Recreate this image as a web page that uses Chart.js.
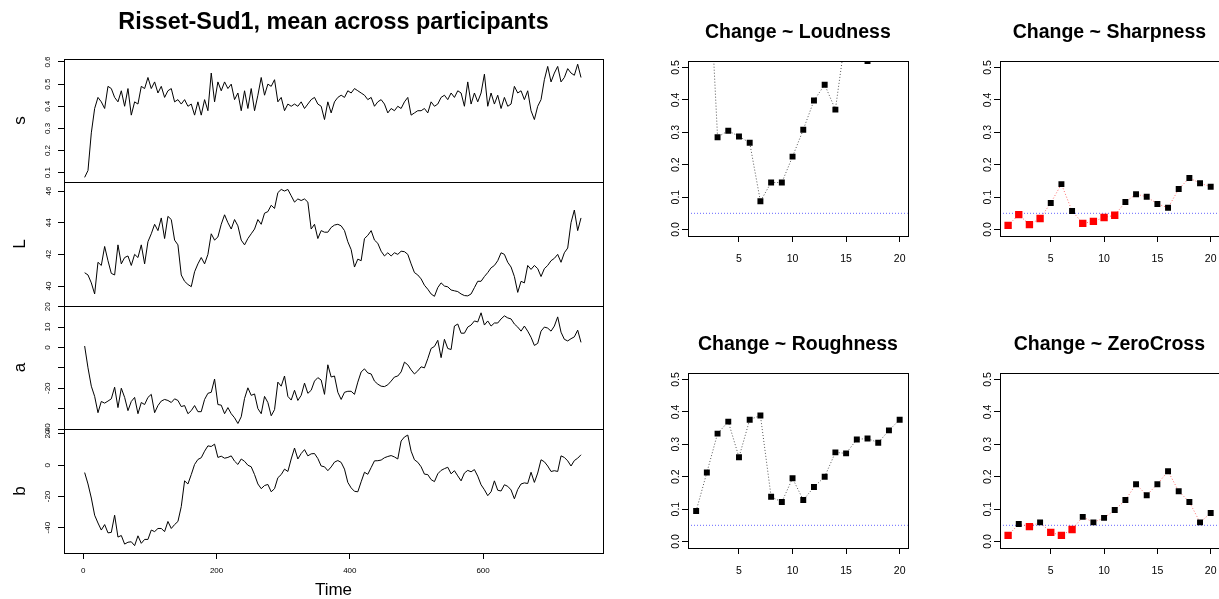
<!DOCTYPE html>
<html>
<head>
<meta charset="utf-8">
<script src="https://cdn.jsdelivr.net/npm/chart.js@4.4.1/dist/chart.umd.min.js"></script>
<style>
html, body { margin: 0; padding: 0; background: #fff; width: 1219px; height: 599px; overflow: hidden; }
canvas { position: absolute; }
</style>
</head>
<body>
<script>
// ---- time series (mean across participants), sampled every 5 time steps ----
const tStart = 2, tStep = 5;
const timeTicks = [0, 200, 400, 600];

const sVals = [0.079,0.11,0.28,0.39,0.44,0.42,0.39,0.49,0.48,0.44,
  0.42,0.47,0.40,0.48,0.36,0.42,0.41,0.49,0.48,0.53,
  0.48,0.51,0.46,0.49,0.44,0.47,0.48,0.42,0.43,0.41,
  0.43,0.40,0.41,0.36,0.42,0.36,0.43,0.38,0.55,0.42,
  0.51,0.47,0.51,0.48,0.50,0.43,0.46,0.38,0.47,0.39,
  0.48,0.38,0.45,0.53,0.45,0.50,0.49,0.52,0.42,0.44,
  0.38,0.41,0.40,0.41,0.40,0.42,0.39,0.41,0.43,0.44,
  0.41,0.40,0.34,0.42,0.37,0.42,0.44,0.45,0.44,0.47,
  0.46,0.48,0.47,0.46,0.45,0.43,0.44,0.40,0.42,0.43,
  0.41,0.37,0.39,0.38,0.40,0.39,0.42,0.44,0.36,0.37,
  0.38,0.38,0.39,0.37,0.42,0.40,0.41,0.44,0.45,0.43,
  0.46,0.44,0.47,0.46,0.40,0.51,0.41,0.46,0.42,0.46,
  0.545,0.40,0.46,0.41,0.45,0.39,0.44,0.40,0.41,0.49,
  0.46,0.47,0.43,0.47,0.38,0.34,0.40,0.43,0.52,0.58,
  0.51,0.55,0.58,0.51,0.53,0.57,0.55,0.54,0.59,0.53];

const LVals = [40.84,40.7,40.2,39.5,41.5,41.3,42.5,41.6,40.8,40.7,
  42.6,41.4,41.8,41.9,41.3,42.0,41.8,42.6,41.4,42.8,
  43.3,43.9,43.5,44.3,43.0,44.4,44.2,42.9,42.6,40.7,
  40.3,40.1,39.96,40.9,41.4,41.8,41.4,42.0,43.3,42.9,
  43.1,43.9,44.5,44.0,43.6,44.2,43.8,42.9,42.6,43.0,
  43.3,43.6,44.2,43.9,44.6,44.7,45.1,44.9,45.9,46.1,
  46.0,46.1,45.7,45.3,45.5,45.4,45.5,45.3,43.6,43.9,
  43.0,43.5,43.4,43.4,43.7,43.85,43.9,43.8,43.5,42.8,
  42.3,41.2,41.7,41.6,43.0,43.2,43.5,42.9,42.7,42.2,
  41.9,42.1,41.9,42.1,42.0,42.2,42.17,42.0,41.4,40.85,
  40.7,40.45,40.05,39.8,39.5,39.35,39.9,40.2,40.0,39.95,
  39.75,39.7,39.65,39.5,39.4,39.38,39.5,39.9,40.3,40.3,
  40.6,40.85,41.15,41.3,41.6,42.1,42.0,41.5,41.2,40.6,
  39.6,40.3,40.2,41.3,41.05,41.3,41.1,40.6,41.1,41.3,
  41.6,41.75,42.0,41.5,42.1,42.4,44.0,44.8,43.5,44.3];

const aVals = [0.7,-10,-19,-24,-32,-26.5,-27.3,-26.3,-25.2,-19.5,
  -29.5,-20,-24.5,-31,-26.5,-24.5,-32.5,-27,-28,-24.5,
  -23,-32,-28.5,-26.3,-25.5,-26,-27,-25.2,-26,-29,
  -28.5,-32.5,-31,-28.5,-31.5,-31.5,-25.5,-22.5,-22,-15.5,
  -28,-28.3,-32.5,-29.5,-32.5,-34.5,-37.3,-34,-25,-19.8,
  -23.5,-22.8,-30,-32.5,-24,-27,-33.5,-30.5,-17,-19,
  -14,-24,-25.8,-21,-26,-23.5,-17.5,-22.5,-21,-16.5,
  -14.8,-16,-23,-8.5,-14.5,-14,-22,-25.5,-22,-21.5,
  -21.5,-23,-17,-12,-10.5,-12.5,-13,-16.5,-18,-19,
  -19.2,-18.3,-16.5,-14.5,-14,-12,-7.2,-8.5,-11,-13,
  -11.5,-9.5,-10,-5.5,-0.5,0.5,3.5,-5,4,-0.5,
  -1,10.5,11.5,7,7,10,11,13,12.5,17,
  11,13,10.5,12,12,14,15.5,14.5,14,11.5,
  10,8,10.5,8,5,1,2,8,10,9.5,
  8,10.5,15,7.5,4,3.2,4.3,5.2,8.5,2.5];

const bVals = [-4.7,-12,-21,-32,-37,-41.5,-38,-43.3,-43,-32,
  -46,-45,-50.5,-49.3,-49,-51.5,-45.2,-50,-47.5,-47.5,
  -41.5,-42.5,-40.5,-40.5,-42.5,-36,-40.5,-38,-36,-26.5,
  -10,-12,-6,0.5,3.7,4.8,9,12.4,12,13.5,
  5,5.8,4.5,5,6,2.6,0.5,4,2.5,0,
  -1,-6,-12,-15,-13,-12.3,-17,-15,-8,-6,
  -2.5,-4,4,11,4,7.5,10,6,7.3,7.5,
  4.3,-0.5,-1,-3.5,-1.1,2,3,1.8,-2.5,-11,
  -14.5,-16.7,-17,-10.6,-4.5,-5.8,-1.5,2.8,2.9,3.3,
  4.8,5.6,6.2,5.3,4,15.5,18.1,19.3,9,3.5,
  1.9,-1,-5.7,-6,-9.2,-10.5,-5.5,-3.3,-2.2,-1.3,
  -5.5,-3.5,-6.8,-10,-5,-3.3,-4.2,-2.8,-7,-12.5,
  -15.7,-19.5,-17,-10,-16,-16.5,-12.5,-13.5,-15.8,-21.5,
  -15.5,-12,-11.3,-11.7,-4.5,-11,-5,3.5,2.2,-0.5,
  -4,-3.5,-4,6,5,2.8,-0.5,3,4.5,6.7];

const sTicks = [0.1, 0.2, 0.3, 0.4, 0.5, 0.6];
const LTicks = [40, 42, 44, 46];
const aTicks = [-40, -30, -20, -10, 0, 10, 20];
const aLabels = [-40, -20, 0, 10, 20];
const bTicks = [-40, -20, 0, 20];

// ---- p-values of the change models, lags 1..20 ----
const lags = [1,2,3,4,5,6,7,8,9,10,11,12,13,14,15,16,17,18,19,20];
const loudP = [0.8,0.95,0.285,0.305,0.287,0.268,0.087,0.145,0.145,0.225,0.308,0.398,0.447,0.37,0.61,0.7,0.52,0.65,0.75,0.7];
const sharpP = [0.013,0.046,0.015,0.034,0.082,0.14,0.057,0.019,0.025,0.037,0.044,0.085,0.109,0.101,0.079,0.067,0.125,0.159,0.143,0.132];
const roughP = [0.094,0.213,0.333,0.37,0.26,0.376,0.389,0.138,0.122,0.195,0.128,0.168,0.2,0.275,0.272,0.315,0.318,0.305,0.343,0.376];
const zeroP = [0.019,0.054,0.046,0.059,0.028,0.019,0.037,0.076,0.059,0.073,0.097,0.128,0.177,0.143,0.177,0.217,0.155,0.122,0.059,0.088];
const pTicks = [0, 0.1, 0.2, 0.3, 0.4, 0.5];
const lagTicks = [5, 10, 15, 20];
const alpha = 0.05;

Chart.defaults.font.family = '"Liberation Sans", Arial, Helvetica, sans-serif';
Chart.defaults.color = '#000';

// box round the plot region, like R's box()
const framePlugin = {
  id: 'frame',
  afterDatasetsDraw(chart) {
    const a = chart.chartArea, ctx = chart.ctx;
    ctx.save();
    ctx.strokeStyle = '#000';
    ctx.lineWidth = 1;
    ctx.strokeRect(Math.round(a.left) + 0.5, Math.round(a.top) + 0.5,
      Math.round(a.right - a.left), Math.round(a.bottom - a.top));
    ctx.restore();
  }
};

function addCanvas(left, top, w, h) {
  const c = document.createElement('canvas');
  c.width = w; c.height = h;
  c.style.left = left + 'px'; c.style.top = top + 'px';
  c.style.width = w + 'px'; c.style.height = h + 'px';
  document.body.appendChild(c);
  return c;
}

function setTicks(list) {
  return scale => { scale.ticks = list.map(v => ({ value: v })); };
}

// left column: one stacked panel of the multiple time series
function tsPanel(vals, name, yMin, yMax, yTicks, yShown, areaTop, areaBottom, first, last) {
  const canvasTop = first ? 0 : areaTop - 6;
  const height = areaBottom - canvasTop + (last ? 48 : 6);
  const c = addCanvas(0, canvasTop, 606, height);
  new Chart(c, {
    type: 'line',
    data: {
      datasets: [{
        data: vals.map((v, i) => ({ x: tStart + i * tStep, y: v })),
        borderColor: '#000', borderWidth: 1, pointRadius: 0, tension: 0
      }]
    },
    options: {
      responsive: false, animation: false, events: [],
      layout: { padding: { top: first ? 0 : 6, bottom: last ? 0 : 6, left: 0, right: 3 } },
      plugins: {
        legend: { display: false }, tooltip: { enabled: false },
        title: {
          display: first, text: 'Risset-Sud1, mean across participants', fullSize: false,
          font: { size: 23.4, weight: 'bold' }, color: '#000', padding: { top: 9, bottom: areaTop - 9 - 28.1 }
        }
      },
      scales: {
        x: {
          type: 'linear', min: -29, max: 780, display: last,
          afterBuildTicks: setTicks(timeTicks),
          afterFit: s => { s.height = last ? 48 : 0; s.paddingLeft = 0; s.paddingRight = 0; },
          ticks: { minRotation: 0, maxRotation: 0, autoSkip: false, padding: 7, font: { size: 8 }, color: '#000' },
          grid: { drawOnChartArea: false, drawTicks: true, tickLength: 6, color: '#000' },
          border: { display: false },
          title: { display: true, text: 'Time', font: { size: 17 }, color: '#000', padding: { top: 0, bottom: 0 } }
        },
        y: {
          type: 'linear', min: yMin, max: yMax,
          afterBuildTicks: setTicks(yTicks),
          afterFit: s => { s.width = 64; s.paddingTop = 0; s.paddingBottom = 0; },
          ticks: {
            callback: v => yShown.includes(v) ? String(v) : '',
            minRotation: 90, maxRotation: 90, crossAlign: 'center', padding: 4.5,
            font: { size: 8 }, color: '#000', autoSkip: false
          },
          grid: { drawOnChartArea: false, drawTicks: true, tickLength: 6, color: '#000' },
          border: { display: false },
          title: { display: true, text: name, font: { size: 17 }, color: '#000', padding: { top: 10, bottom: 0 } }
        }
      }
    },
    plugins: [framePlugin]
  });
}

tsPanel(sVals, 's', 0.058, 0.6136, sTicks, sTicks, 59, 182, true, false);
tsPanel(LVals, 'L', 38.74, 46.57, LTicks, LTicks, 182, 306, false, false);
tsPanel(aVals, 'a', -40.0, 20.34, aTicks, aLabels, 306, 429, false, false);
tsPanel(bVals, 'b', -56.2, 23.2, bTicks, bTicks, 429, 553, false, true);

// right block: p-value by lag for each predictor
const lagMin = 0.24, lagMax = 20.76;
function pPanel(name, pvals, plotLeft, plotTop) {
  const c = addCanvas(plotLeft - 50, plotTop - 61, 274, 276);
  const sig = pvals.some(p => p < alpha);
  new Chart(c, {
    type: 'line',
    data: {
      datasets: [{
        data: pvals.map((p, i) => ({ x: lags[i], y: p })),
        borderColor: sig ? 'rgba(255,60,60,0.75)' : '#555',
        borderWidth: 1, borderDash: [1, 2], tension: 0,
        pointStyle: 'rect',
        pointRadius: pvals.map(p => p < alpha ? 5.2 : 4.2),
        pointBackgroundColor: pvals.map(p => p < alpha ? '#ff0000' : '#000'),
        pointBorderWidth: 0
      }, {
        data: [{ x: lagMin, y: alpha }, { x: lagMax, y: alpha }],
        borderColor: '#6666ff', borderWidth: 1, borderDash: [1, 2], pointRadius: 0
      }]
    },
    options: {
      responsive: false, animation: false, events: [],
      layout: { padding: { top: 0, bottom: 0, left: 0, right: 3 } },
      plugins: {
        legend: { display: false }, tooltip: { enabled: false },
        title: {
          display: true, text: name, fullSize: false,
          font: { size: 19.5, weight: 'bold' }, color: '#000', padding: { top: 20.5, bottom: 17.1 }
        }
      },
      scales: {
        x: {
          type: 'linear', min: lagMin, max: lagMax,
          afterBuildTicks: setTicks(lagTicks),
          afterFit: s => { s.height = 40; s.paddingLeft = 0; s.paddingRight = 0; },
          ticks: { minRotation: 0, maxRotation: 0, autoSkip: false, padding: 11, font: { size: 10.5 }, color: '#000' },
          grid: { drawOnChartArea: false, drawTicks: true, tickLength: 6, color: '#000' },
          border: { display: false }
        },
        y: {
          type: 'linear', min: -0.02, max: 0.52,
          afterBuildTicks: setTicks(pTicks),
          afterFit: s => { s.width = 50; s.paddingTop = 0; s.paddingBottom = 0; },
          ticks: {
            callback: v => v.toFixed(1),
            minRotation: 90, maxRotation: 90, crossAlign: 'center', padding: -1,
            font: { size: 10.5 }, color: '#000', autoSkip: false
          },
          grid: { drawOnChartArea: false, drawTicks: true, tickLength: 6, color: '#000' },
          border: { display: false }
        }
      }
    },
    plugins: [framePlugin]
  });
}

pPanel('Change ~ Loudness', loudP, 688, 61);
pPanel('Change ~ Sharpness', sharpP, 1000, 61);
pPanel('Change ~ Roughness', roughP, 688, 373);
pPanel('Change ~ ZeroCross', zeroP, 1000, 373);
</script>
</body>
</html>
